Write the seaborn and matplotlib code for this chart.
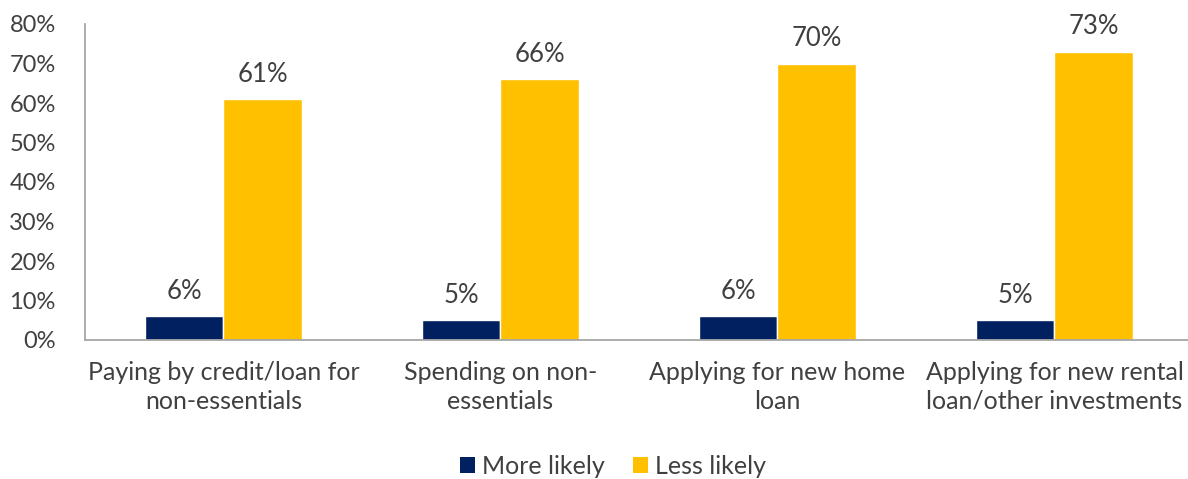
import matplotlib
matplotlib.use("Agg")
import matplotlib.pyplot as plt
import seaborn as sns
import pandas as pd
from matplotlib.ticker import FuncFormatter, FixedLocator
from matplotlib.patches import Patch

categories = ["Paying by credit/loan for\nnon-essentials",
              "Spending on non-\nessentials",
              "Applying for new home\nloan",
              "Applying for new rental\nloan/other investments"]
series_names = ["More likely", "Less likely"]
more_likely = [6, 5, 6, 5]
less_likely = [61, 66, 70, 73]
colors = ["#002060", "#FFC000"]

rows = []
for c, m, l in zip(categories, more_likely, less_likely):
    rows.append({"cat": c, "series": series_names[0], "val": m})
    rows.append({"cat": c, "series": series_names[1], "val": l})
df = pd.DataFrame(rows)

sns.set_theme(style="white")
plt.rcParams['font.family'] = ['Lato', 'DejaVu Sans']
text_color = "#404040"
axis_color = "#A6A6A6"

fig = plt.figure(figsize=(11.88, 4.79), dpi=100)
W, H = 1188, 479
left, right, top, bottom = 85, 1193, 24, 340
ax = fig.add_axes([left / W, (H - bottom) / H, (right - left) / W, (bottom - top) / H])

sns.barplot(data=df, x="cat", y="val", hue="series", palette=colors,
            width=0.57, gap=0, ax=ax, legend=False, saturation=1)

for cont in ax.containers:
    ax.bar_label(cont, labels=[f"{v:.0f}%" for v in cont.datavalues],
                 padding=9, fontsize=18.5, color=text_color)

ax.set_ylim(0, 80)
ax.set_xlim(-0.5, len(categories) - 0.5)
ax.set_yticks(range(0, 81, 10))
ax.yaxis.set_major_formatter(FuncFormatter(lambda v, p: f"{v:.0f}%"))
ax.set_xlabel("")
ax.set_ylabel("")

# category labels at centers, tick marks at dividers
ax.set_xticks(range(len(categories)))
ax.set_xticklabels(categories, fontsize=18, color=text_color, linespacing=1.3)
ax.tick_params(axis="x", which="major", length=0, pad=15)
ax.xaxis.set_minor_locator(FixedLocator([i - 0.5 for i in range(len(categories) + 1)]))
ax.tick_params(axis="x", which="minor", length=8, color=axis_color, width=1.3, direction="out")
ax.tick_params(axis="y", length=7, color=axis_color, width=1.3, direction="out",
               labelsize=17, labelcolor=text_color, pad=14)

for s in ["top", "right"]:
    ax.spines[s].set_visible(False)
for s in ["left", "bottom"]:
    ax.spines[s].set_color(axis_color)
    ax.spines[s].set_linewidth(1.3)

handles = [Patch(facecolor=c, edgecolor="none") for c in colors]
fig.legend(handles, series_names, loc="center", bbox_to_anchor=(613 / W, (H - 466) / H),
           ncol=2, frameon=False, fontsize=18, handlelength=0.6, handleheight=0.6,
           handletextpad=0.3, columnspacing=1.1, labelcolor=text_color)

fig.savefig("out.png", dpi=100)
